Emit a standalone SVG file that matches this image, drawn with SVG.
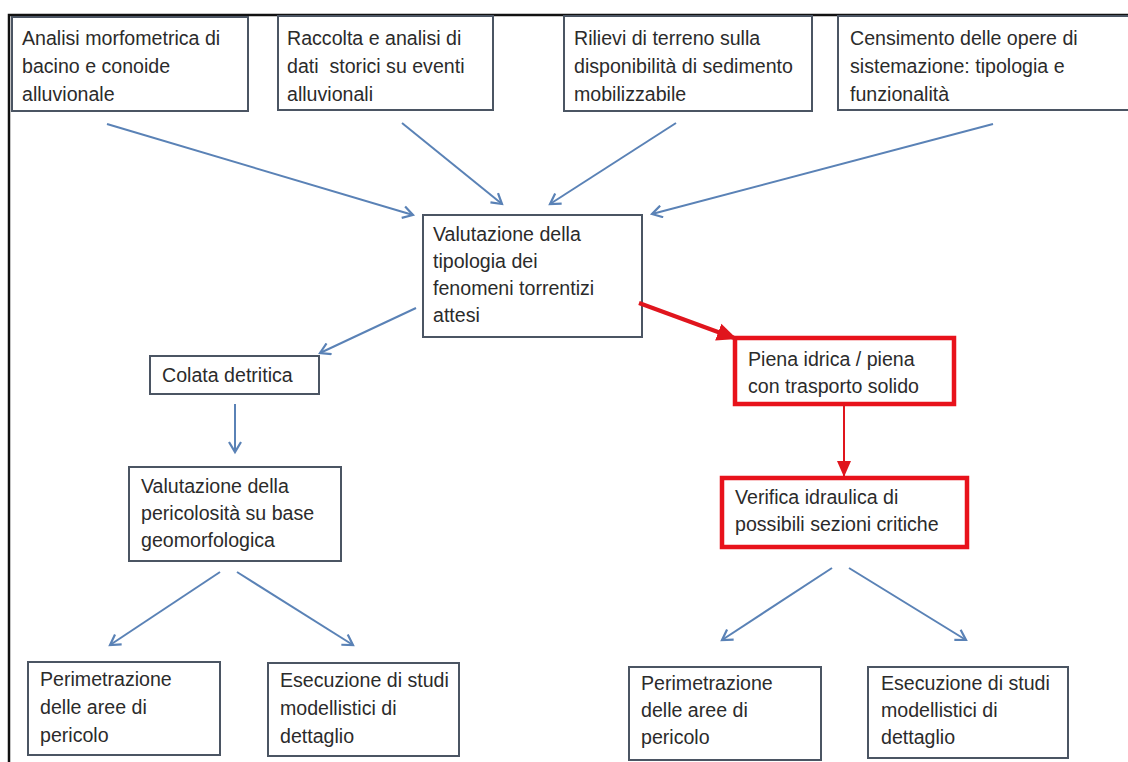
<svg xmlns="http://www.w3.org/2000/svg" width="1128" height="762" viewBox="0 0 1128 762">
<style>
.box{fill:#fff;stroke:#4b5563;stroke-width:2}
.rbox{fill:#fff;stroke:#e8121b;stroke-width:4.5}
text{font-family:"Liberation Sans",Arial,sans-serif;font-size:19.6px;fill:#2b2b2b}
.bl{stroke:#5a82b6;stroke-width:2;fill:none}
.rd{stroke:#e0151d;fill:none}
</style>
<defs>
<marker id="ab" markerWidth="14" markerHeight="14" refX="11" refY="7" orient="auto" markerUnits="userSpaceOnUse">
<path d="M1,1 L11,7 L1,13" fill="none" stroke="#5a82b6" stroke-width="2.2"/>
</marker>
<marker id="ar1" markerWidth="24" markerHeight="24" refX="20" refY="12" orient="auto" markerUnits="userSpaceOnUse">
<path d="M0,3 L20,12 L0,21 Z" fill="#e0151d"/>
</marker>
<marker id="ar2" markerWidth="18" markerHeight="18" refX="16" refY="9" orient="auto" markerUnits="userSpaceOnUse">
<path d="M0,2 L16,9 L0,16 Z" fill="#e0151d"/>
</marker>
</defs>
<rect width="1128" height="762" fill="#fff"/>
<path d="M9,762 V15 H1128" fill="none" stroke="#111" stroke-width="2.5"/>

<g id="n1"><rect class="box" x="12" y="17" width="236" height="94"/>
<text><tspan x="22" y="45">Analisi morfometrica di</tspan><tspan x="22" y="73">bacino e conoide</tspan><tspan x="22" y="101">alluvionale</tspan></text></g>
<g id="n2"><rect class="box" x="278" y="16" width="215" height="94"/>
<text xml:space="preserve"><tspan x="287" y="45">Raccolta e analisi di</tspan><tspan x="287" y="73">dati  storici su eventi</tspan><tspan x="287" y="101">alluvionali</tspan></text></g>
<g id="n3"><rect class="box" x="564" y="16" width="248" height="95"/>
<text><tspan x="574" y="45">Rilievi di terreno sulla</tspan><tspan x="574" y="73">disponibilità di sedimento</tspan><tspan x="574" y="101">mobilizzabile</tspan></text></g>
<g id="n4"><rect class="box" x="838" y="16" width="300" height="94"/>
<text><tspan x="850" y="45">Censimento delle opere di</tspan><tspan x="850" y="73">sistemazione: tipologia e</tspan><tspan x="850" y="101">funzionalità</tspan></text></g>

<g id="n5"><rect class="box" x="423" y="215" width="219" height="122"/>
<text><tspan x="433" y="241">Valutazione della</tspan><tspan x="433" y="268">tipologia dei</tspan><tspan x="433" y="295">fenomeni torrentizi</tspan><tspan x="433" y="322">attesi</tspan></text></g>

<g id="n6"><rect class="box" x="150" y="356" width="169" height="38"/>
<text x="162" y="382">Colata detritica</text></g>

<g id="n7"><rect class="rbox" x="735" y="338" width="219" height="66"/>
<text><tspan x="748" y="366">Piena idrica / piena</tspan><tspan x="748" y="393">con trasporto solido</tspan></text></g>

<g id="n8"><rect class="box" x="129" y="467" width="212" height="94"/>
<text><tspan x="141" y="493">Valutazione della</tspan><tspan x="141" y="520">pericolosità su base</tspan><tspan x="141" y="547">geomorfologica</tspan></text></g>

<g id="n9"><rect class="rbox" x="722" y="478" width="245" height="69"/>
<text><tspan x="735" y="504">Verifica idraulica di</tspan><tspan x="735" y="531">possibili sezioni critiche</tspan></text></g>

<g id="n10"><rect class="box" x="28" y="662" width="192" height="93"/>
<text><tspan x="40" y="686">Perimetrazione</tspan><tspan x="40" y="714">delle aree di</tspan><tspan x="40" y="742">pericolo</tspan></text></g>
<g id="n11"><rect class="box" x="268" y="663" width="191" height="93"/>
<text><tspan x="280" y="687">Esecuzione di studi</tspan><tspan x="280" y="715">modellistici di</tspan><tspan x="280" y="743">dettaglio</tspan></text></g>
<g id="n12"><rect class="box" x="629" y="667" width="192" height="93"/>
<text><tspan x="641" y="690">Perimetrazione</tspan><tspan x="641" y="717">delle aree di</tspan><tspan x="641" y="744">pericolo</tspan></text></g>
<g id="n13"><rect class="box" x="868" y="667" width="200" height="91"/>
<text><tspan x="881" y="690">Esecuzione di studi</tspan><tspan x="881" y="717">modellistici di</tspan><tspan x="881" y="744">dettaglio</tspan></text></g>

<g id="connectors">
<line class="bl" x1="107" y1="124" x2="413" y2="215" marker-end="url(#ab)"/>
<line class="bl" x1="402" y1="123" x2="502" y2="204" marker-end="url(#ab)"/>
<line class="bl" x1="676" y1="123" x2="550" y2="204" marker-end="url(#ab)"/>
<line class="bl" x1="993" y1="124" x2="652" y2="214" marker-end="url(#ab)"/>
<line class="bl" x1="416" y1="308" x2="320" y2="353" marker-end="url(#ab)"/>
<line class="bl" x1="235" y1="404" x2="235" y2="452" marker-end="url(#ab)"/>
<line class="bl" x1="220" y1="572" x2="110" y2="645" marker-end="url(#ab)"/>
<line class="bl" x1="237" y1="572" x2="353" y2="645" marker-end="url(#ab)"/>
<line class="bl" x1="832" y1="568" x2="722" y2="640" marker-end="url(#ab)"/>
<line class="bl" x1="849" y1="568" x2="966" y2="640" marker-end="url(#ab)"/>
<line class="rd" stroke-width="4" x1="639" y1="303" x2="737" y2="339" marker-end="url(#ar1)"/>
<line class="rd" stroke-width="2" x1="844" y1="402" x2="844" y2="477" marker-end="url(#ar2)"/>
</g>
</svg>
